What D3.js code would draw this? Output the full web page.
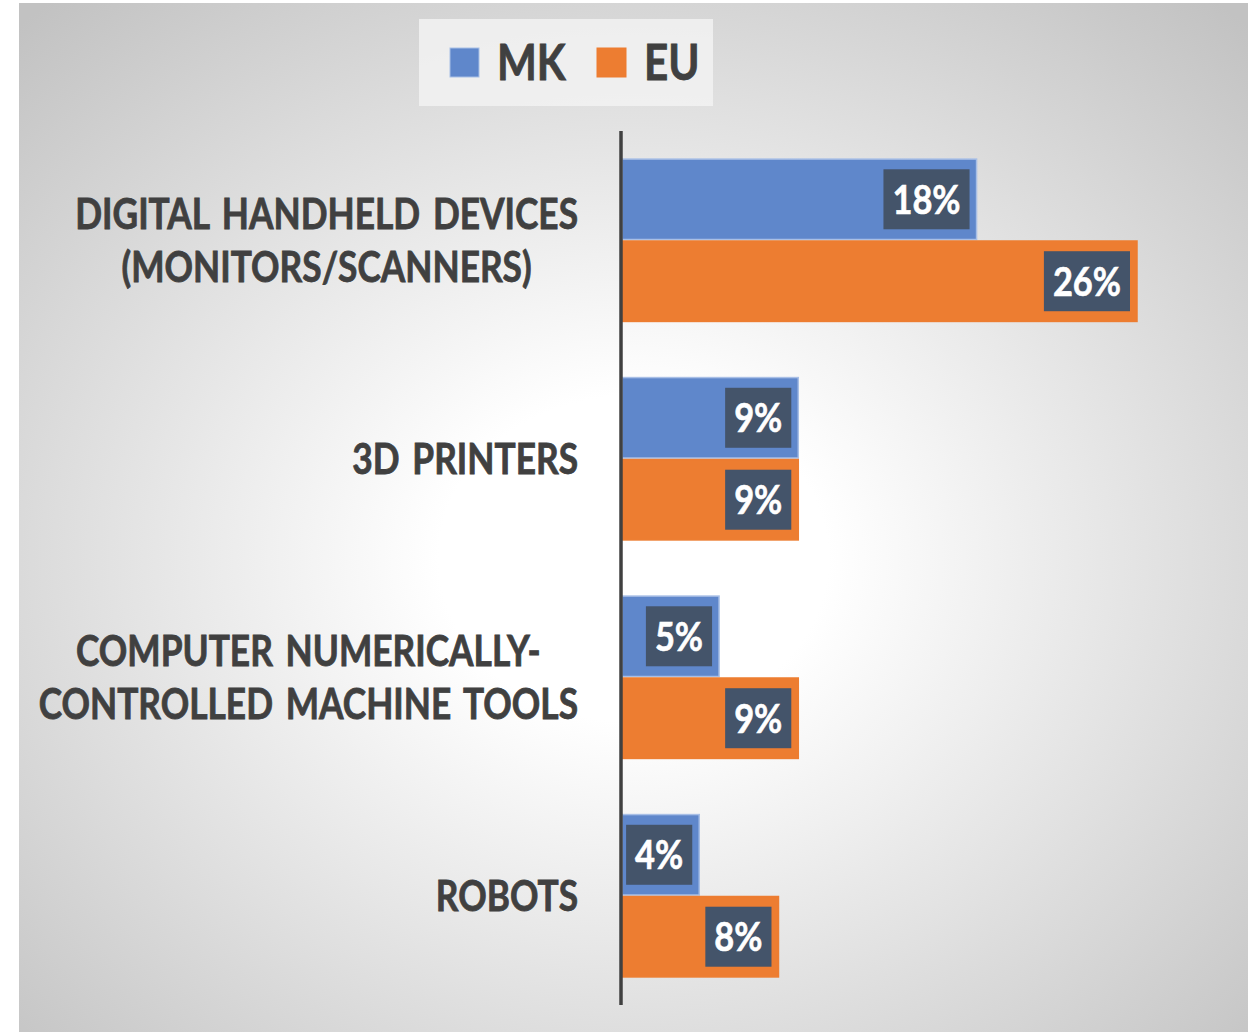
<!DOCTYPE html>
<html>
<head>
<meta charset="utf-8">
<script src="https://cdn.jsdelivr.net/npm/d3@7"></script>
<style>
    html, body { margin: 0; padding: 0; background: #ffffff; }
    svg { display: block; font-family: Lato, 'Open Sans', sans-serif; }
</style>
</head>
<body>
<svg id="chart"></svg>
<script>
const categories = [
    ['DIGITAL HANDHELD DEVICES', '(MONITORS/SCANNERS)'],
    ['3D PRINTERS'],
    ['COMPUTER NUMERICALLY-', 'CONTROLLED MACHINE TOOLS'],
    ['ROBOTS'],
]
const seriesNames = ['MK', 'EU']
const mkValues = [0.179, 0.089, 0.049, 0.039]
const euValues = [0.26, 0.089, 0.089, 0.079]

const colors = { MK: '#5f87cb', EU: '#ed7d31' }
const strokes = { MK: '#a8bfe6', EU: '#ed7d31' }

const width = 1248, height = 1032
const squeeze = 0.86 // Calibri is narrower than Lato
const labelSqueeze = 0.84

const svg = d3.select('#chart')
    .attr('width', width)
    .attr('height', height)

// background panel, radial gray fade
const grad = svg.append('defs')
    .append('radialGradient')
    .attr('id', 'bg')
    .attr('cx', '0.5')
    .attr('cy', '0.54')
    .attr('r', '0.72')

grad.selectAll('stop')
    .data([[0, '#ffffff'], [0.22, '#ffffff'], [1, '#c2c2c2']])
    .join('stop')
    .attr('offset', d => d[0])
    .attr('stop-color', d => d[1])

svg.append('rect')
    .attr('x', 19)
    .attr('y', 3)
    .attr('width', width - 19)
    .attr('height', height - 3)
    .attr('fill', 'url(#bg)')

const keys = categories.map((_, i) => i)
const rows = keys.map(i => ({ idx: i, MK: mkValues[i], EU: euValues[i] }))

const x = d3.scaleLinear()
    .domain([0, 0.26])
    .range([622, 1137])

const y = d3.scaleBand()
    .domain(keys)
    .range([131, 1005])
    .paddingInner(0.25)
    .paddingOuter(0.125)

const ySub = d3.scaleBand()
    .domain(seriesNames)
    .range([0, y.bandwidth()])

const fmt = d3.format('.0%')

const bars = svg.append('g')
    .selectAll('g')
    .data(rows)
    .join('g')
    .attr('transform', d => `translate(0,${y(d.idx)})`)
    .selectAll('g')
    .data(d => seriesNames.map(k => ({ key: k, value: d[k] })))
    .join('g')

bars.append('rect')
    .attr('x', x(0))
    .attr('y', d => ySub(d.key) + 0.75)
    .attr('width', d => x(d.value) - x(0))
    .attr('height', ySub.bandwidth() - 1.5)
    .attr('fill', d => colors[d.key])
    .attr('stroke', d => strokes[d.key])
    .attr('stroke-width', 1.5)

// data labels in dark boxes
bars.each(function (d) {
    const g = d3.select(this)
    const cy = ySub(d.key) + ySub.bandwidth() / 2
    const t = g.append('text')
        .attr('font-size', 40)
        .attr('font-weight', 700)
        .attr('fill', '#ffffff')
        .attr('stroke', '#ffffff')
        .attr('stroke-width', 0.6)
        .attr('dy', '0.36em')
        .text(fmt(d.value))
    const tw = t.node().getComputedTextLength() * squeeze
    t.attr('textLength', tw).attr('lengthAdjust', 'spacingAndGlyphs')
    const boxW = tw + 18
    const right = x(d.value) - 7
    g.insert('rect', 'text')
        .attr('x', right - boxW)
        .attr('y', cy - 30)
        .attr('width', boxW)
        .attr('height', 60)
        .attr('fill', '#44546a')
    t.attr('x', right - boxW + 9).attr('y', cy)
})

// axis line
svg.append('line')
    .attr('x1', 621)
    .attr('x2', 621)
    .attr('y1', 131)
    .attr('y2', 1005)
    .attr('stroke', '#404040')
    .attr('stroke-width', 3.5)

// category labels, centered block, right edge at 578
svg.append('g')
    .selectAll('g')
    .data(keys)
    .join('g')
    .each(function (i) {
        const g = d3.select(this)
        const lines = categories[i]
        const lh = 53
        const cy = y(i) + y.bandwidth() / 2
        const texts = lines.map((ln, j) => g.append('text')
            .attr('font-size', 42)
            .attr('font-weight', 700)
            .attr('fill', '#404040')
            .attr('stroke', '#404040')
            .attr('stroke-width', 0.8)
            .attr('word-spacing', 5)
            .attr('dy', '0.36em')
            .attr('y', cy + (j - (lines.length - 1) / 2) * lh)
            .text(ln))
        const ws = texts.map(t => t.node().getComputedTextLength() * labelSqueeze)
        const maxW = d3.max(ws)
        const mid = 578 - maxW / 2
        texts.forEach((t, j) => {
            t.attr('textLength', ws[j])
                .attr('lengthAdjust', 'spacingAndGlyphs')
                .attr('x', mid - ws[j] / 2)
        })
    })

// legend
const legend = svg.append('g')

legend.append('rect')
    .attr('x', 419)
    .attr('y', 19)
    .attr('width', 294)
    .attr('height', 87)
    .attr('fill', '#f2f2f2')
    .attr('opacity', 0.85)

const legendX = { MK: 450, EU: 597 }

legend.selectAll('g')
    .data(seriesNames)
    .join('g')
    .each(function (k) {
        const g = d3.select(this)
        g.append('rect')
            .attr('x', legendX[k])
            .attr('y', 48)
            .attr('width', 29)
            .attr('height', 29)
            .attr('fill', colors[k])
            .attr('stroke', strokes[k])
            .attr('stroke-width', 1)
        const t = g.append('text')
            .attr('x', legendX[k] + 47)
            .attr('y', 62)
            .attr('dy', '0.36em')
            .attr('font-size', 49)
            .attr('font-weight', 700)
            .attr('fill', '#404040')
            .attr('stroke', '#404040')
            .attr('stroke-width', 0.8)
            .text(k)
        const tw = t.node().getComputedTextLength() * squeeze
        t.attr('textLength', tw).attr('lengthAdjust', 'spacingAndGlyphs')
    })
</script>
</body>
</html>
